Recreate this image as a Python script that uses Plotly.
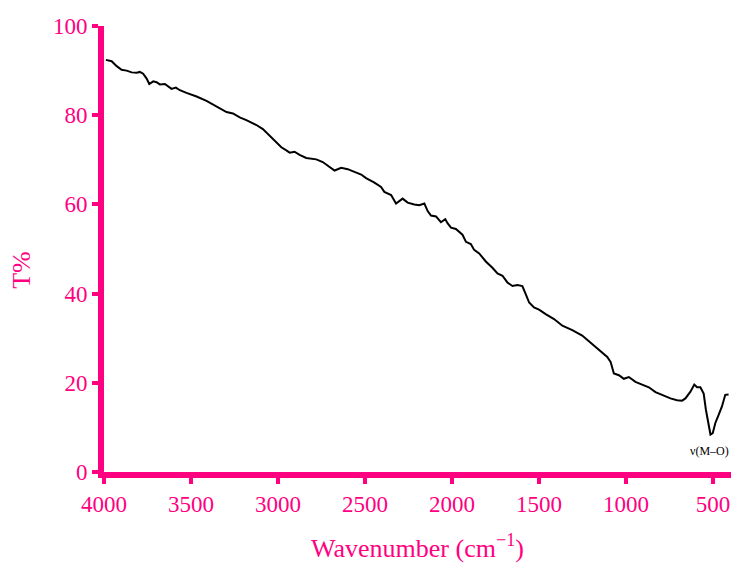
import plotly.graph_objects as go

wavenumber = [3989, 3956, 3927, 3899, 3870, 3841, 3812, 3794, 3775, 3755, 3740, 3717, 3698,
              3679, 3650, 3631, 3612, 3587, 3564, 3526, 3468, 3411, 3364, 3316, 3296, 3259,
              3220, 3182, 3124, 3087, 3048, 3010, 2981, 2952, 2933, 2905, 2876, 2838, 2780,
              2743, 2704, 2675, 2637, 2599, 2561, 2522, 2494, 2446, 2408, 2389, 2350, 2322,
              2284, 2255, 2217, 2188, 2159, 2140, 2121, 2092, 2064, 2039, 2026, 2006, 1978,
              1940, 1920, 1892, 1873, 1844, 1806, 1768, 1739, 1710, 1682, 1653, 1624, 1596,
              1576, 1557, 1529, 1500, 1462, 1414, 1366, 1309, 1252, 1194, 1156, 1108, 1089,
              1070, 1041, 1013, 984, 946, 908, 869, 831, 793, 745, 707, 678, 659, 630, 608,
              592, 573, 554, 541, 529, 515, 502, 487, 468, 449, 430, 411]
transmittance = [92.4, 92.1, 91.0, 90.2, 90.0, 89.6, 89.5, 89.7, 89.3, 88.2, 87.0, 87.6, 87.4,
                 86.9, 87.0, 86.4, 85.9, 86.2, 85.6, 85.0, 84.2, 83.2, 82.2, 81.3, 80.7, 80.4,
                 79.5, 78.9, 77.8, 76.9, 75.4, 73.9, 72.8, 72.1, 71.6, 71.8, 71.1, 70.4, 70.1,
                 69.5, 68.4, 67.6, 68.2, 67.9, 67.3, 66.7, 65.9, 64.9, 63.9, 62.8, 62.1, 60.2,
                 61.3, 60.4, 60.0, 59.8, 60.2, 58.5, 57.5, 57.3, 56.0, 56.7, 55.8, 54.8, 54.5,
                 53.2, 51.6, 51.1, 49.8, 49.0, 47.2, 45.8, 44.5, 44.0, 42.5, 41.7, 41.9, 41.7,
                 39.8, 38.0, 36.9, 36.4, 35.4, 34.3, 32.8, 31.8, 30.6, 28.7, 27.3, 25.8, 24.7,
                 22.1, 21.7, 20.9, 21.3, 20.2, 19.6, 19.0, 17.9, 17.3, 16.5, 16.1, 16.0, 16.5,
                 18.0, 19.6, 19.0, 19.0, 17.6, 13.9, 11.0, 8.4, 8.7, 11.0, 12.8, 14.7, 17.3, 17.4]

x_ticks = [4000, 3500, 3000, 2500, 2000, 1500, 1000, 500]
y_ticks = [0, 20, 40, 60, 80, 100]

PINK = "#FF0080"
FONT = "Liberation Serif"

L, R, T, B = 104, 2, 26, 87
W, H = 733, 563
plot_w = W - L - R
plot_h = H - T - B

fig = go.Figure()
fig.add_trace(go.Scatter(x=wavenumber, y=transmittance, mode="lines",
                         line=dict(color="black", width=2), showlegend=False))

fig.add_annotation(x=1.0, y=4.7, xref="paper", yref="y", text="ν(M–O)", showarrow=False,
                   xanchor="right", yanchor="middle",
                   font=dict(family=FONT, size=12, color="black"))

fig.add_annotation(x=(22 - L) / plot_w, y=(H - B - 272) / plot_h, xref="paper", yref="paper",
                   text="T%", showarrow=False, xanchor="center", yanchor="middle",
                   textangle=-90, font=dict(family=FONT, size=26, color=PINK))

fig.update_layout(
    width=W, height=H,
    margin=dict(l=L, r=R, t=T, b=B),
    paper_bgcolor="white", plot_bgcolor="white",
    font=dict(family=FONT, color=PINK),
    xaxis=dict(range=[4000, 397], tickvals=x_ticks, showgrid=False, zeroline=False,
               showline=True, linecolor=PINK, linewidth=6, ticks="outside",
               ticklen=6, tickwidth=4, tickcolor=PINK,
               tickfont=dict(family=FONT, size=23, color=PINK),
               title=dict(text="Wavenumber (cm<sup>−1</sup>)",
                          font=dict(family=FONT, size=26, color=PINK), standoff=26)),
    yaxis=dict(range=[0, 100], tickvals=y_ticks, showgrid=False, zeroline=False,
               showline=True, linecolor=PINK, linewidth=6, ticks="outside",
               ticklen=6, tickwidth=4, tickcolor=PINK,
               tickfont=dict(family=FONT, size=23, color=PINK)),
)

fig.write_html("out.html")
